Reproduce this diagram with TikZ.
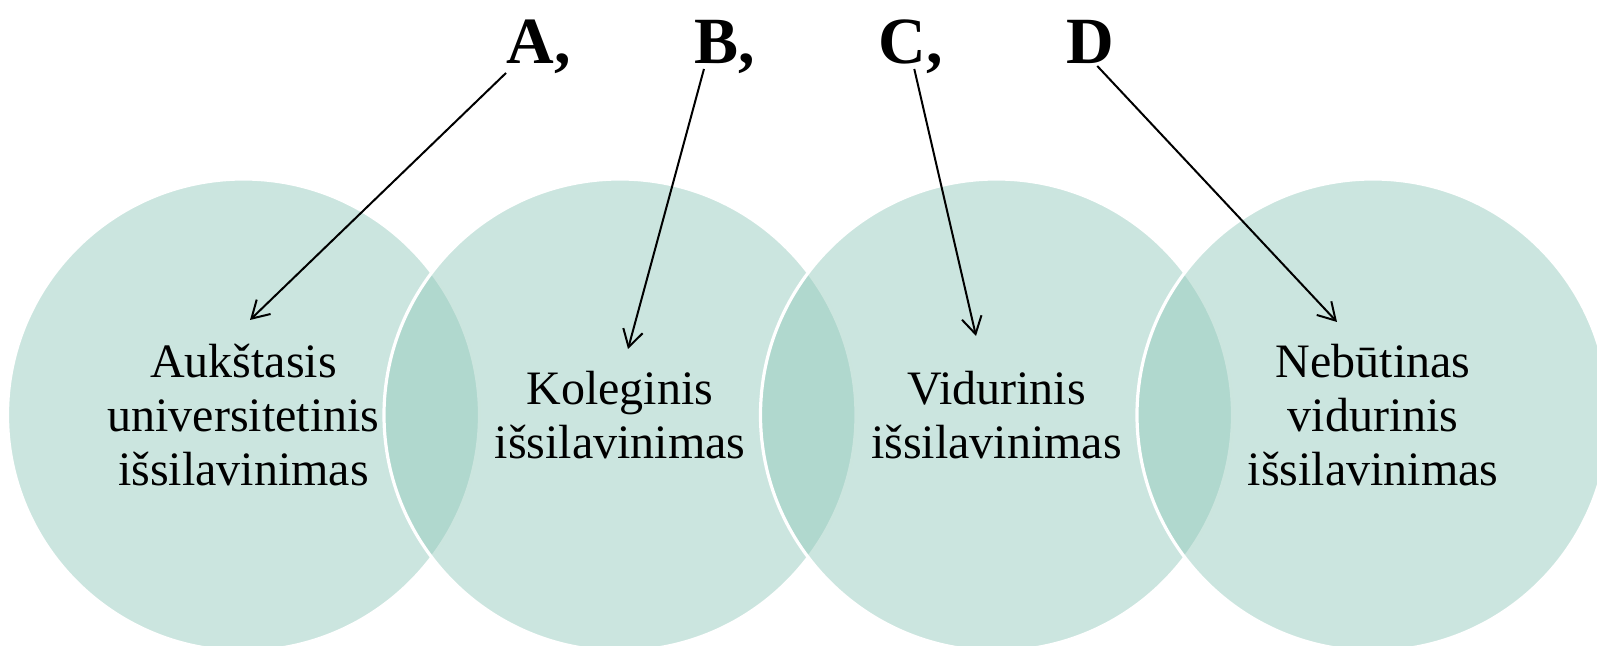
\documentclass[tikz,border=0pt]{standalone}
\usepackage{fontspec}
\setmainfont{Liberation Serif}
\usetikzlibrary{positioning,arrows.meta}
\definecolor{ringteal}{RGB}{147,201,188}

\tikzset{
  ring/.style={circle, minimum size=236pt, inner sep=0pt, draw=white, line width=1.6pt,
    fill=ringteal, fill opacity=0.48, text opacity=1, align=center,
    font=\fontsize{24}{27}\selectfont},
  lbl/.style={inner sep=0pt, font=\fontsize{33}{38}\selectfont\bfseries},
  pointer/.style={-{Straight Barb[length=8.5pt,width=10pt]}, line width=1pt},
}

\begin{document}
\begin{tikzpicture}[x=0.5pt,y=0.5pt]
  \useasboundingbox (0,0) rectangle (1597,646);

  % circles
  \node[ring] (uni) at (243.5,231) {Aukštasis\\universitetinis\\išsilavinimas};
  \node[ring] (kol) at (620,231) {Koleginis\\išsilavinimas};
  \node[ring] (vid) at (996.5,231) {Vidurinis\\išsilavinimas};
  \node[ring] (neb) at (1373,231) {Nebūtinas\\vidurinis\\išsilavinimas};

  % labels
  \node[lbl, anchor=base west] (lblA) at (506,582) {A,};
  \node[lbl, base right=61.5pt of lblA] (lblB) {B,};
  \node[lbl, base right=61.5pt of lblB] (lblC) {C,};
  \node[lbl, base right=61.5pt of lblC] (lblD) {D};

  \coordinate (tipA) at (250,326);
  \coordinate (tipB) at (628,297);
  \coordinate (tipC) at (976,310);
  \coordinate (tipD) at (1337,324);

  \draw[pointer] ([yshift=-4.5pt]lblA.base west) -- (tipA);
  \draw[pointer] ([xshift=5pt,yshift=-2.5pt]lblB.base west) -- (tipB);
  \draw[pointer] ([xshift=18pt,yshift=-2.5pt]lblC.base west) -- (tipC);
  \draw[pointer] ([xshift=15.5pt,yshift=-1pt]lblD.base west) -- (tipD);
\end{tikzpicture}
\end{document}
